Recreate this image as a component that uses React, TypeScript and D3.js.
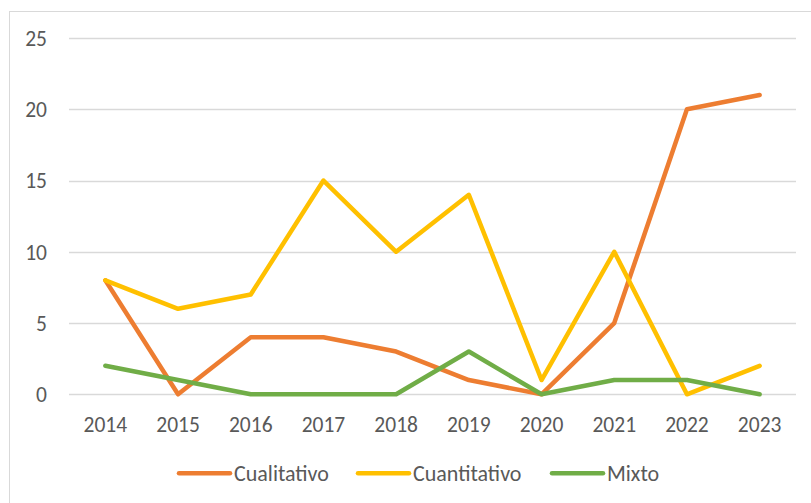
import { useEffect, useRef } from 'react';
import * as d3 from 'd3';

const years = ['2014', '2015', '2016', '2017', '2018', '2019', '2020', '2021', '2022', '2023'];
const cualitativo = [8, 0, 4, 4, 3, 1, 0, 5, 20, 21];
const cuantitativo = [8, 6, 7, 15, 10, 14, 1, 10, 0, 2];
const mixto = [2, 1, 0, 0, 0, 3, 0, 1, 1, 0];
const yTicks = [0, 5, 10, 15, 20, 25];

const seriesNames = ['Cualitativo', 'Cuantitativo', 'Mixto'];
const seriesColors = ['#ED7D31', '#FFC000', '#70AD47'];

const FONT = 'Calibri, Carlito, Lato, sans-serif';

export default function App() {
  const svgRef = useRef<SVGSVGElement>(null);

  useEffect(() => {
    if (!svgRef.current) return;
    const width = 811;
    const height = 503;
    const svg = d3.select(svgRef.current);
    svg.selectAll('*').remove();

    // chart frame
    svg.append('rect')
      .attr('x', 9.5).attr('y', 11.5)
      .attr('width', width + 10).attr('height', height + 10)
      .attr('fill', '#fff')
      .attr('stroke', '#d9d9d9');

    const x = d3.scaleBand<string>()
      .domain(years)
      .range([69, 796]);

    const y = d3.scaleLinear()
      .domain([0, 25])
      .range([394.3, 38]);

    // gridlines + y labels
    svg.append('g')
      .selectAll('line')
      .data(yTicks)
      .enter()
      .append('line')
      .attr('x1', 69).attr('x2', 796)
      .attr('y1', d => Math.round(y(d)) + 0.5)
      .attr('y2', d => Math.round(y(d)) + 0.5)
      .attr('stroke', '#d9d9d9')
      .attr('stroke-width', 1.3);

    svg.append('g')
      .selectAll('text')
      .data(yTicks)
      .enter()
      .append('text')
      .attr('x', 47)
      .attr('y', d => y(d))
      .attr('dy', '0.36em')
      .attr('text-anchor', 'end')
      .attr('fill', '#595959')
      .attr('font-family', FONT)
      .attr('font-size', '21.5px')
      .text(d => d);

    // x labels
    svg.append('g')
      .selectAll('text')
      .data(years)
      .enter()
      .append('text')
      .attr('x', d => (x(d) ?? 0) + x.bandwidth() / 2)
      .attr('y', 432)
      .attr('text-anchor', 'middle')
      .attr('fill', '#595959')
      .attr('font-family', FONT)
      .attr('font-size', '21.5px')
      .text(d => d);

    const line = d3.line<number>()
      .x((d, i) => (x(years[i]) ?? 0) + x.bandwidth() / 2)
      .y(d => y(d));

    const allSeries = [cualitativo, cuantitativo, mixto];
    // draw order: Cualitativo, Cuantitativo, Mixto
    allSeries.forEach((vals, i) => {
      svg.append('path')
        .attr('d', line(vals))
        .attr('fill', 'none')
        .attr('stroke', seriesColors[i])
        .attr('stroke-width', 4.5)
        .attr('stroke-linejoin', 'round')
        .attr('stroke-linecap', 'round');
    });

    // legend
    const legendX = [179, 358, 552];
    const legendY = 473.3;
    const lg = svg.append('g');
    seriesNames.forEach((name, i) => {
      lg.append('line')
        .attr('x1', legendX[i]).attr('x2', legendX[i] + 51)
        .attr('y1', legendY).attr('y2', legendY)
        .attr('stroke', seriesColors[i])
        .attr('stroke-width', 4.5)
        .attr('stroke-linecap', 'round');
      lg.append('text')
        .attr('x', legendX[i] + 55)
        .attr('y', 480.5)
        .attr('fill', '#595959')
        .attr('font-family', FONT)
        .attr('font-size', '22px')
        .text(name);
    });
  }, []);

  return (
    <svg
      ref={svgRef}
      width={811}
      height={503}
      style={{ position: 'absolute', left: 0, top: 0 }}
    />
  );
}
